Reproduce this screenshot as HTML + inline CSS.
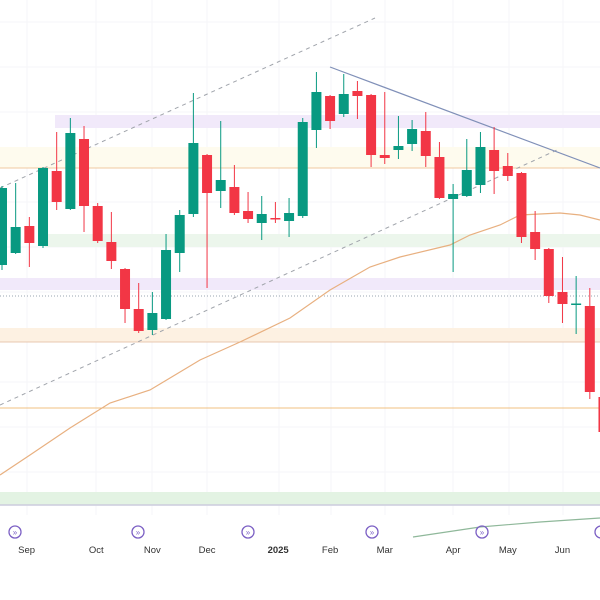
<!DOCTYPE html>
<html><head><meta charset="utf-8"><style>
html,body{margin:0;padding:0;background:#fff;}
svg{display:block;font-family:"Liberation Sans",sans-serif;}
</style></head><body>
<svg id="chart" width="600" height="600" viewBox="0 0 600 600">
  <g stroke="#f5f6f8" stroke-width="1">
    <line x1="27" y1="0" x2="27" y2="515"/><line x1="96" y1="0" x2="96" y2="515"/>
    <line x1="152" y1="0" x2="152" y2="515"/><line x1="207" y1="0" x2="207" y2="515"/>
    <line x1="279" y1="0" x2="279" y2="515"/><line x1="331" y1="0" x2="331" y2="515"/>
    <line x1="385" y1="0" x2="385" y2="515"/><line x1="453" y1="0" x2="453" y2="515"/>
    <line x1="509" y1="0" x2="509" y2="515"/><line x1="563" y1="0" x2="563" y2="515"/>
    <line x1="0" y1="22" x2="600" y2="22"/><line x1="0" y1="67" x2="600" y2="67"/>
    <line x1="0" y1="112" x2="600" y2="112"/><line x1="0" y1="157" x2="600" y2="157"/>
    <line x1="0" y1="202" x2="600" y2="202"/><line x1="0" y1="247" x2="600" y2="247"/>
    <line x1="0" y1="292" x2="600" y2="292"/><line x1="0" y1="337" x2="600" y2="337"/>
    <line x1="0" y1="382" x2="600" y2="382"/><line x1="0" y1="427" x2="600" y2="427"/>
    <line x1="0" y1="472" x2="600" y2="472"/>
  </g>
  <g>
    <rect x="55" y="115" width="545" height="13" fill="#f1e9fa"/>
    <rect x="0" y="147" width="600" height="21" fill="#fefbee"/>
    <line x1="0" y1="168" x2="600" y2="168" stroke="#f0c8a0" stroke-width="1"/>
    <rect x="45" y="234" width="555" height="13" fill="#ecf6ec"/>
    <rect x="0" y="278" width="600" height="12" fill="#f1e9fa"/>
    <line x1="0" y1="296" x2="600" y2="296" stroke="#9aa5b0" stroke-width="1" stroke-dasharray="1,2"/>
    <rect x="0" y="328" width="600" height="14" fill="#fdf1e2"/>
    <line x1="0" y1="342" x2="600" y2="342" stroke="#e8c8b0" stroke-width="1"/>
    <line x1="0" y1="408" x2="600" y2="408" stroke="#f0c080" stroke-width="1"/>
    <rect x="0" y="492" width="600" height="13" fill="#e3f3e3"/>
    <line x1="0" y1="505" x2="600" y2="505" stroke="#ccd" stroke-width="1.5"/>
  </g>
  <g>
    <line x1="0" y1="188" x2="375" y2="18" stroke="#a0a4ab" stroke-width="1" stroke-dasharray="4,4"/>
    <line x1="0" y1="405" x2="557" y2="150" stroke="#a0a4ab" stroke-width="1" stroke-dasharray="4,4"/>
    <line x1="330" y1="67" x2="600" y2="168" stroke="#8090b8" stroke-width="1.2"/>
    <polyline fill="none" stroke="#e8b080" stroke-width="1.2" points="0,475 30,455 70,428 110,403 150,390 200,360 240,342 290,318 330,290 370,267 400,257 450,245 470,235 500,225 520,215 560,213 580,215 600,220"/>
    <polyline fill="none" stroke="#8fb89a" stroke-width="1.2" points="413,537 480,527 540,522 600,518"/>
  </g>
  <g id="candles"></g>
  <g fill="none" stroke="#7b5fc4" stroke-width="1.3">
    <g><circle cx="15" cy="532" r="6"/><text x="15" y="535" font-size="8" fill="#7b5fc4" stroke="none" text-anchor="middle">»</text></g>
    <g><circle cx="138" cy="532" r="6"/><text x="138" y="535" font-size="8" fill="#7b5fc4" stroke="none" text-anchor="middle">»</text></g>
    <g><circle cx="248" cy="532" r="6"/><text x="248" y="535" font-size="8" fill="#7b5fc4" stroke="none" text-anchor="middle">»</text></g>
    <g><circle cx="372" cy="532" r="6"/><text x="372" y="535" font-size="8" fill="#7b5fc4" stroke="none" text-anchor="middle">»</text></g>
    <g><circle cx="482" cy="532" r="6"/><text x="482" y="535" font-size="8" fill="#7b5fc4" stroke="none" text-anchor="middle">»</text></g>
    <g><circle cx="601" cy="532" r="6"/></g>
  </g>
  <g id="xaxis" font-size="9.5" fill="#333" text-anchor="middle"></g>
</svg>
<script>
const opens  = [335,347,374,354,429,391,461,394,358,331,291,270,281,347,386,445,409,413,389,377,382,379,384,470,504,486,509,505,445,450,456,469,443,401,404,415,450,434,427,368,351,308,295.5,294,203];
const highs  = [414,417,383,433,468,482,474,397,388,332,317,308,366,390,507,446,479,435,408,404,398,402,482,528,505,526,519,506,508,484,480,488,458,416,461,468,473,447,428,389,352,343,324,312,204];
const lows   = [330,346,333,352,390,390,368,357,331,277,267,265,280,328,383,312,392,385,377,360,377,363,382,452,471,483,481,433,436,441,449,433,401,328,403,407,406,419,357,340,297,277,266,201,160];
const closes = [412,373,357,432,398,467,394,359,339,291,269,287,350,385,457,407,420,387,381,386,381,387,478,508,479,506,504,445,442,454,471,444,402,406,430,453,429,424,363,351,304,296,296.5,208,168];
const tickLabels = ["Sep","Oct","Nov","Dec","2025","Feb","Mar","Apr","May","Jun"];
const tickIndex  = [1.8,6.9,11,15,20.2,24,28,33,37,41];

function xScale(i){ return 2 + i*13.67; }
function yScale(p){ return 600 - p; }
const NS="http://www.w3.org/2000/svg";
const g=document.getElementById('candles');
for(let i=0;i<opens.length;i++){
  const up=closes[i]>=opens[i];
  const col=up?'#089981':'#f23645';
  const x=xScale(i);
  const w=document.createElementNS(NS,'line');
  
  
  w.setAttribute('x1',x);w.setAttribute('x2',x);
  w.setAttribute('y1',yScale(highs[i]));w.setAttribute('y2',yScale(lows[i]));
  w.setAttribute('stroke',col);w.setAttribute('stroke-width','1');
  g.appendChild(w);
  const r=document.createElementNS(NS,'rect');
  
  
  const top=yScale(Math.max(opens[i],closes[i]));
  const h=Math.max(1.5,Math.abs(opens[i]-closes[i]));
  r.setAttribute('x',x-5);r.setAttribute('width',10);
  r.setAttribute('y',top);r.setAttribute('height',h);
  r.setAttribute('fill',col);
  g.appendChild(r);
}
const xa=document.getElementById('xaxis');
for(let k=0;k<tickLabels.length;k++){
  const t=document.createElementNS(NS,'text');
  
  
  t.setAttribute('x',xScale(tickIndex[k]));
  t.setAttribute('y',553);
  if(tickLabels[k]==='2025'){t.setAttribute('font-weight','bold');}
  t.textContent=tickLabels[k];
  xa.appendChild(t);
}
</script>
</body></html>
